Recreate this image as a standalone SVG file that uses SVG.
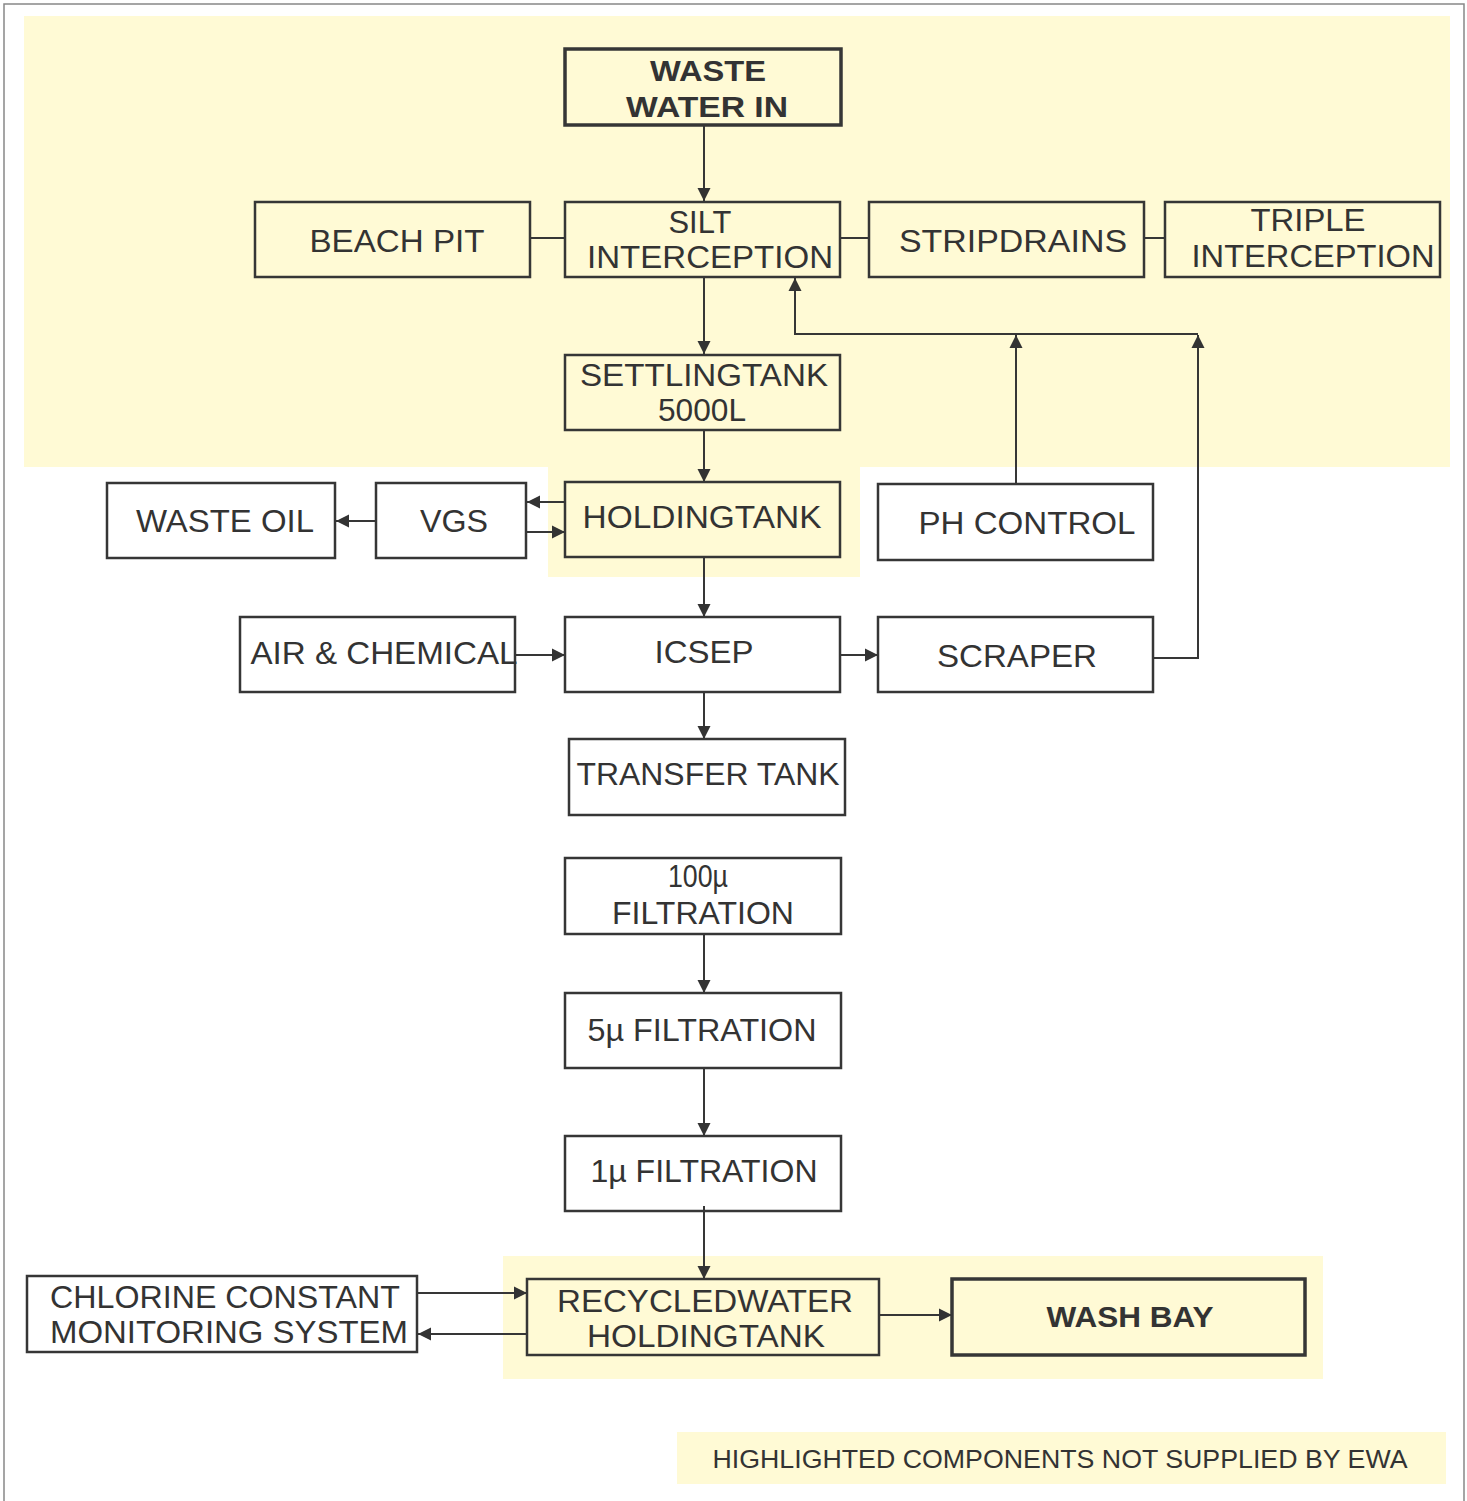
<svg xmlns="http://www.w3.org/2000/svg" width="1467" height="1501" viewBox="0 0 1467 1501">
<defs>
<marker id="ah" markerUnits="userSpaceOnUse" markerWidth="14" markerHeight="14" viewBox="0 0 14 14" refX="13" refY="7" orient="auto">
<path d="M0,0.5 L13,7 L0,13.5 Z" fill="#333"/>
</marker>
<style>
.bx{fill:none;stroke:#363636;stroke-width:2.5}
.bb{fill:none;stroke:#363636;stroke-width:3.5}
.t{font-family:"Liberation Sans",Arial,sans-serif;font-size:31px;fill:#333;text-anchor:middle}
.tb{font-family:"Liberation Sans",Arial,sans-serif;font-size:30px;font-weight:bold;fill:#333;text-anchor:middle}
.c{fill:none;stroke:#363636;stroke-width:2}
.a{fill:none;stroke:#363636;stroke-width:2;marker-end:url(#ah)}
.hl{fill:#FFFAD5}
</style>
</defs>
<rect width="1467" height="1501" fill="#fff"/>
<path d="M4,1501 V4 H1464 V1501" fill="none" stroke="#888" stroke-width="1.5"/>
<g id="highlights">
<rect class="hl" x="24" y="16" width="1426" height="451"/>
<rect class="hl" x="548" y="466" width="312" height="111"/>
<rect class="hl" x="503" y="1256" width="820" height="123"/>
<rect class="hl" x="677" y="1432" width="769" height="52"/>
</g>
<g id="connectors">
<path class="a" d="M704,125 V201"/>
<path class="c" d="M530,238 H565"/>
<path class="c" d="M840,238 H869"/>
<path class="c" d="M1144,238 H1165"/>
<path class="a" d="M704,277 V354"/>
<path class="a" d="M1198,334 H795 V278"/>
<path class="a" d="M1016,484 V335"/>
<path class="a" d="M1153,658 H1198 V335"/>
<path class="a" d="M704,430 V482"/>
<path class="a" d="M565,502 H527"/>
<path class="a" d="M527,532 H565"/>
<path class="a" d="M376,521 H336"/>
<path class="a" d="M704,557 V617"/>
<path class="a" d="M515,655 H565"/>
<path class="a" d="M840,655 H878"/>
<path class="a" d="M704,692 V739"/>
<path class="a" d="M704,934 V993"/>
<path class="a" d="M704,1068 V1136"/>
<path class="a" d="M704,1206 V1279"/>
<path class="a" d="M879,1315 H952"/>
<path class="a" d="M417,1293 H527"/>
<path class="a" d="M527,1334 H418"/>
</g>
<g id="n-wastewater"><rect class="bb" x="565" y="49" width="276" height="76"/>
<text class="tb" x="708" y="81" textLength="116" lengthAdjust="spacingAndGlyphs">WASTE</text>
<text class="tb" x="707" y="117" textLength="162" lengthAdjust="spacingAndGlyphs">WATER  IN</text></g>
<g id="n-beachpit"><rect class="bx" x="255" y="202" width="275" height="75"/>
<text class="t" x="397" y="252" textLength="175" lengthAdjust="spacingAndGlyphs">BEACH PIT</text></g>
<g id="n-silt"><rect class="bx" x="565" y="202" width="275" height="75"/>
<text class="t" x="700" y="233" textLength="63" lengthAdjust="spacingAndGlyphs">SILT</text>
<text class="t" x="710" y="268" textLength="246" lengthAdjust="spacingAndGlyphs">INTERCEPTION</text></g>
<g id="n-strip"><rect class="bx" x="869" y="202" width="275" height="75"/>
<text class="t" x="1013" y="252" textLength="228" lengthAdjust="spacingAndGlyphs">STRIPDRAINS</text></g>
<g id="n-triple"><rect class="bx" x="1165" y="202" width="275" height="75"/>
<text class="t" x="1308" y="231" textLength="115" lengthAdjust="spacingAndGlyphs">TRIPLE</text>
<text class="t" x="1313" y="267" textLength="243" lengthAdjust="spacingAndGlyphs">INTERCEPTION</text></g>
<g id="n-settling"><rect class="bx" x="565" y="355" width="275" height="75"/>
<text class="t" x="704" y="386" textLength="248" lengthAdjust="spacingAndGlyphs">SETTLINGTANK</text>
<text class="t" x="702" y="421" textLength="88" lengthAdjust="spacingAndGlyphs">5000L</text></g>
<g id="n-wasteoil"><rect class="bx" x="107" y="483" width="228" height="75"/>
<text class="t" x="225" y="532" textLength="178" lengthAdjust="spacingAndGlyphs">WASTE OIL</text></g>
<g id="n-vgs"><rect class="bx" x="376" y="483" width="150" height="75"/>
<text class="t" x="454" y="532" textLength="68" lengthAdjust="spacingAndGlyphs">VGS</text></g>
<g id="n-holding"><rect class="bx" x="565" y="482" width="275" height="75"/>
<text class="t" x="702" y="528" textLength="239" lengthAdjust="spacingAndGlyphs">HOLDINGTANK</text></g>
<g id="n-ph"><rect class="bx" x="878" y="484" width="275" height="76"/>
<text class="t" x="1027" y="534" textLength="217" lengthAdjust="spacingAndGlyphs">PH CONTROL</text></g>
<g id="n-air"><rect class="bx" x="240" y="617" width="275" height="75"/>
<text class="t" x="384" y="664" textLength="267" lengthAdjust="spacingAndGlyphs">AIR &amp; CHEMICAL</text></g>
<g id="n-icsep"><rect class="bx" x="565" y="617" width="275" height="75"/>
<text class="t" x="704" y="663" textLength="99" lengthAdjust="spacingAndGlyphs">ICSEP</text></g>
<g id="n-scraper"><rect class="bx" x="878" y="617" width="275" height="75"/>
<text class="t" x="1017" y="667" textLength="160" lengthAdjust="spacingAndGlyphs">SCRAPER</text></g>
<g id="n-transfer"><rect class="bx" x="569" y="739" width="276" height="76"/>
<text class="t" x="708" y="785" textLength="263" lengthAdjust="spacingAndGlyphs">TRANSFER TANK</text></g>
<g id="n-f100"><rect class="bx" x="565" y="858" width="276" height="76"/>
<text class="t" x="698" y="887" textLength="60" lengthAdjust="spacingAndGlyphs">100µ</text>
<text class="t" x="703" y="924" textLength="182" lengthAdjust="spacingAndGlyphs">FILTRATION</text></g>
<g id="n-f5"><rect class="bx" x="565" y="993" width="276" height="75"/>
<text class="t" x="702" y="1041" textLength="229" lengthAdjust="spacingAndGlyphs">5µ FILTRATION</text></g>
<g id="n-f1"><rect class="bx" x="565" y="1136" width="276" height="75"/>
<text class="t" x="704" y="1182" textLength="227" lengthAdjust="spacingAndGlyphs">1µ FILTRATION</text></g>
<g id="n-chlorine"><rect class="bx" x="27" y="1276" width="390" height="76"/>
<text class="t" x="225" y="1308" textLength="350" lengthAdjust="spacingAndGlyphs">CHLORINE CONSTANT</text>
<text class="t" x="229" y="1343" textLength="358" lengthAdjust="spacingAndGlyphs">MONITORING SYSTEM</text></g>
<g id="n-recycled"><rect class="bx" x="527" y="1279" width="352" height="76"/>
<text class="t" x="705" y="1312" textLength="296" lengthAdjust="spacingAndGlyphs">RECYCLEDWATER</text>
<text class="t" x="706" y="1347" textLength="238" lengthAdjust="spacingAndGlyphs">HOLDINGTANK</text></g>
<g id="n-washbay"><rect class="bb" x="952" y="1279" width="353" height="76"/>
<text class="tb" x="1130" y="1327" textLength="167" lengthAdjust="spacingAndGlyphs">WASH BAY</text></g>
<g id="legend">
<text class="t" style="font-size:25px" x="1060" y="1468" textLength="695" lengthAdjust="spacingAndGlyphs">HIGHLIGHTED COMPONENTS NOT SUPPLIED BY EWA</text></g>
</svg>
